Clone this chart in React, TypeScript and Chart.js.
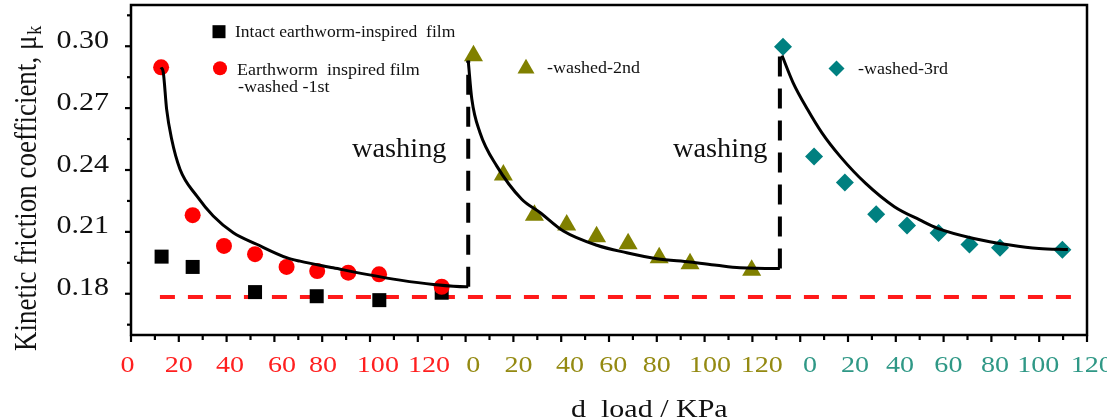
import React, { useEffect, useRef } from 'react';
import { Chart, registerables } from 'chart.js';

Chart.register(...registerables);

// x values are positions on one continuous load axis (0..400) that carries three 0-120 segments
const intactX = [12.8, 25.8, 51.9, 77.7, 103.9, 130];
const intactY = [0.198, 0.193, 0.1808, 0.1788, 0.1769, 0.1805];

const wash1X = [12.6, 25.8, 38.9, 51.9, 65.1, 77.9, 90.9, 103.8, 130];
const wash1Y = [0.2898, 0.2181, 0.2032, 0.1992, 0.193, 0.191, 0.1902, 0.1894, 0.1834];

const wash2X = [143.3, 155.8, 168.8, 182.3, 194.8, 208, 221, 233.9, 259.7];
const wash2Y = [0.2954, 0.2376, 0.2181, 0.2133, 0.2076, 0.2043, 0.1974, 0.1946, 0.1914];

const wash3X = [272.8, 285.8, 298.7, 311.8, 324.7, 337.9, 350.8, 363.6, 389.7];
const wash3Y = [0.2998, 0.2466, 0.2339, 0.2185, 0.2131, 0.2094, 0.2039, 0.2023, 0.2013];

const fit1X = [12.55, 13.5, 14.9, 17.0, 20.5, 27.5, 34.4, 42.8, 52.6, 65.1, 70.7, 84.6, 98.6, 112.6, 126.5, 140.0, 141.1];
const fit1Y = [0.2898, 0.2874, 0.2695, 0.255, 0.2404, 0.2274, 0.2177, 0.2096, 0.204, 0.1975, 0.1958, 0.1926, 0.1894, 0.1866, 0.1845, 0.1834, 0.1834];

const fit2X = [141.1, 142.6, 146.0, 153.0, 163.5, 171.1, 180.9, 194.9, 207.4, 220.0, 233.9, 245.1, 254.8, 270.2, 271.5];
const fit2Y = [0.293, 0.2744, 0.2582, 0.242, 0.2258, 0.2194, 0.2104, 0.2035, 0.1999, 0.197, 0.1954, 0.1938, 0.1926, 0.1922, 0.1922];

const fit3X = [272.4, 277.0, 283.1, 289.1, 296.7, 307.3, 319.4, 330.0, 337.5, 352.6, 367.8, 379.9, 392.0];
const fit3Y = [0.2955, 0.2824, 0.2693, 0.258, 0.2466, 0.2336, 0.2222, 0.2158, 0.2117, 0.2068, 0.2036, 0.2019, 0.2014];

const step1X = [141.1, 141.1];
const step1Y = [0.1834, 0.293];
const step2X = [271.5, 271.5];
const step2Y = [0.1922, 0.2963];

const baseX = [12.1, 395.7];
const baseY = [0.1784, 0.1784];

const yTickValues = [0.18, 0.21, 0.24, 0.27, 0.3];
const yTickLabels = ['0.18', '0.21', '0.24', '0.27', '0.30'];
const segTickLabels = ['0', '20', '40', '60', '80', '100', '120'];
const redTickPos = [-1.5, 20, 41.4, 63.2, 80.3, 103.3, 124.7];
const oliveTickPos = [143.2, 162.1, 183.7, 201.8, 220, 242.3, 263.9];
const tealTickPos = [284.1, 302.9, 321.8, 342, 361.5, 379.6, 402];

const legendText = {
  intact: 'Intact earthworm-inspired  film',
  w1a: 'Earthworm  inspired film',
  w1b: '-washed -1st',
  w2: '-washed-2nd',
  w3: '-washed-3rd',
};
const washingLabel = 'washing';
const yTitle = 'Kinetic friction coefficient, \u03bc';
const yTitleSub = 'k';
const xTitle = 'd  load / KPa';

const RED = '#ff0000';
const OLIVE = '#808000';
const TEAL = '#008080';
const SERIF = '"Liberation Serif", "Times New Roman", serif';

const pts = (xs: number[], ys: number[]) => xs.map((x, i) => ({ x, y: ys[i] }));

function drawText(ctx: CanvasRenderingContext2D, s: string, x: number, y: number, size: number, color: string, align: CanvasTextAlign, sx: number) {
  ctx.save();
  ctx.translate(x, y);
  ctx.scale(sx, 1);
  ctx.font = `${size}px ${SERIF}`;
  ctx.fillStyle = color;
  ctx.textAlign = align;
  ctx.textBaseline = 'alphabetic';
  ctx.fillText(s, 0, 0);
  ctx.restore();
}

const decorPlugin = {
  id: 'decor',
  afterDatasetsDraw(chart: any) {
    const ctx: CanvasRenderingContext2D = chart.ctx;
    const xs = chart.scales.x;
    const ys = chart.scales.y;
    const a = chart.chartArea;

    // frame
    ctx.save();
    ctx.strokeStyle = '#000';
    ctx.lineWidth = 2.5;
    ctx.strokeRect(a.left, a.top, a.right - a.left, a.bottom - a.top);

    // y ticks
    ctx.lineWidth = 2.2;
    for (let k = 0; k <= 10; k++) {
      const v = 0.165 + k * 0.015;
      const major = k % 2 === 1;
      const py = ys.getPixelForValue(v);
      ctx.beginPath();
      ctx.moveTo(a.left, py);
      ctx.lineTo(a.left - (major ? 6 : 4), py);
      ctx.stroke();
    }
    // x ticks
    for (let u = 0; u <= 400; u += 10) {
      const major = u % 20 === 0;
      const px = xs.getPixelForValue(u);
      ctx.beginPath();
      ctx.moveTo(px, a.bottom);
      ctx.lineTo(px, a.bottom + (major ? 7 : 5));
      ctx.stroke();
    }
    ctx.restore();

    // y tick labels
    yTickValues.forEach((v, i) => {
      drawText(ctx, yTickLabels[i], 109, ys.getPixelForValue(v) + 1.5, 25, '#111', 'right', 1.2);
    });
    // x tick labels
    const segs: [number[], string][] = [
      [redTickPos, '#ff1f1f'],
      [oliveTickPos, '#948a12'],
      [tealTickPos, '#2f9886'],
    ];
    segs.forEach(([pos, col]) => {
      pos.forEach((p, i) => {
        drawText(ctx, segTickLabels[i], xs.getPixelForValue(p), 372, 23, col, 'center', 1.22);
      });
    });

    // x title
    drawText(ctx, xTitle, 571, 417, 25, '#111', 'left', 1.2);

    // y title
    ctx.save();
    ctx.translate(36, 351);
    ctx.rotate(-Math.PI / 2);
    ctx.scale(1, 1.2);
    ctx.font = `27px ${SERIF}`;
    ctx.fillStyle = '#111';
    ctx.textAlign = 'left';
    ctx.textBaseline = 'alphabetic';
    ctx.fillText(yTitle, 0, 0);
    const w = ctx.measureText(yTitle).width;
    ctx.font = `18px ${SERIF}`;
    ctx.fillText(yTitleSub, w + 1, 4);
    ctx.restore();

    // washing labels
    drawText(ctx, washingLabel, 352, 157, 27, '#111', 'left', 1.05);
    drawText(ctx, washingLabel, 673, 157, 27, '#111', 'left', 1.05);

    // legend
    ctx.save();
    ctx.fillStyle = '#000';
    ctx.fillRect(219 - 6.5, 31.7 - 6.5, 13, 13);
    ctx.fillStyle = RED;
    ctx.beginPath();
    ctx.arc(220, 68.3, 7, 0, Math.PI * 2);
    ctx.fill();
    ctx.fillStyle = OLIVE;
    const r = 9.8;
    ctx.beginPath();
    ctx.moveTo(526, 68.5 - r);
    ctx.lineTo(526 + r * Math.sin((2 * Math.PI) / 3), 68.5 + r * 0.5);
    ctx.lineTo(526 - r * Math.sin((2 * Math.PI) / 3), 68.5 + r * 0.5);
    ctx.closePath();
    ctx.fill();
    ctx.fillStyle = TEAL;
    ctx.beginPath();
    ctx.moveTo(836.5, 68.6 - 8);
    ctx.lineTo(836.5 + 8, 68.6);
    ctx.lineTo(836.5, 68.6 + 8);
    ctx.lineTo(836.5 - 8, 68.6);
    ctx.closePath();
    ctx.fill();
    ctx.restore();

    drawText(ctx, legendText.intact, 235, 37, 17, '#111', 'left', 1.03);
    drawText(ctx, legendText.w1a, 237, 75, 17, '#111', 'left', 1.06);
    drawText(ctx, legendText.w1b, 238, 92, 17, '#111', 'left', 1.06);
    drawText(ctx, legendText.w2, 547, 72.7, 17, '#111', 'left', 1.06);
    drawText(ctx, legendText.w3, 858, 74, 17, '#111', 'left', 1.06);
  },
};

export default function App() {
  const ref = useRef<HTMLCanvasElement | null>(null);

  useEffect(() => {
    if (!ref.current) return;
    const line = (xs: number[], ys: number[]) => ({
      data: pts(xs, ys),
      showLine: true,
      borderColor: '#000',
      borderWidth: 3,
      pointRadius: 0,
      cubicInterpolationMode: 'monotone' as const,
      fill: false,
    });
    const step = (xs: number[], ys: number[]) => ({
      data: pts(xs, ys),
      showLine: true,
      borderColor: '#000',
      borderWidth: 4,
      borderDash: [20, 12],
      pointRadius: 0,
      fill: false,
    });
    const chart = new Chart(ref.current, {
      type: 'scatter',
      data: {
        datasets: [
          line(fit1X, fit1Y),
          line(fit2X, fit2Y),
          line(fit3X, fit3Y),
          step(step1X, step1Y),
          step(step2X, step2Y),
          {
            data: pts(wash1X, wash1Y),
            pointStyle: 'circle',
            pointRadius: 8,
            backgroundColor: RED,
            borderColor: RED,
            borderWidth: 0,
          },
          {
            data: pts(wash2X, wash2Y),
            pointStyle: 'triangle',
            pointRadius: 11,
            backgroundColor: OLIVE,
            borderColor: OLIVE,
            borderWidth: 0,
          },
          {
            data: pts(wash3X, wash3Y),
            pointStyle: 'rectRot',
            pointRadius: 9,
            backgroundColor: TEAL,
            borderColor: TEAL,
            borderWidth: 0,
          },
          {
            data: pts(intactX, intactY),
            pointStyle: 'rect',
            pointRadius: 9.9,
            backgroundColor: '#000',
            borderColor: '#000',
            borderWidth: 0,
          },
          {
            data: pts(baseX, baseY),
            showLine: true,
            borderColor: '#ff1a1a',
            borderWidth: 4,
            borderDash: [15, 13],
            pointRadius: 0,
            fill: false,
          },
        ],
      },
      options: {
        animation: false,
        responsive: false,
        events: [],
        layout: { autoPadding: false, padding: { left: 131, right: 20, top: 5, bottom: 85 } },
        plugins: { legend: { display: false }, tooltip: { enabled: false } },
        scales: {
          x: { type: 'linear', min: 0, max: 400, display: false },
          y: { type: 'linear', min: 0.16, max: 0.32, display: false },
        },
      },
      plugins: [decorPlugin],
    });
    return () => chart.destroy();
  }, []);

  return (
    <div style={{ position: 'absolute', left: 0, top: 0, width: 1107, height: 420, background: '#fff' }}>
      <canvas ref={ref} width={1107} height={420} style={{ display: 'block' }} />
    </div>
  );
}
